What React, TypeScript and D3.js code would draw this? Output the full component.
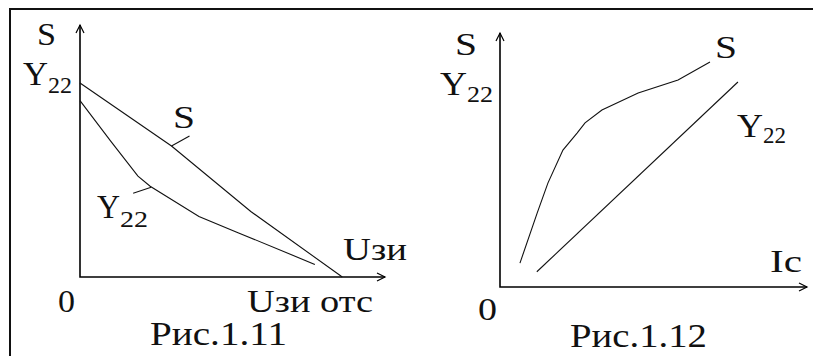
import React, { useEffect, useRef } from 'react';
import * as d3 from 'd3';

// curve points (0..100 along each axis)
const leftS: [number, number][] = [[0, 77], [30, 52], [56, 26], [86, 0]];
const leftY22: [number, number][] = [[0, 70], [10, 54], [19, 40], [23, 36], [39, 24], [52, 17.5], [77, 5]];
const rightS: [number, number][] = [
  [6.5, 9.4], [12.1, 29.1], [15.6, 40.9], [20.5, 53.9], [25.1, 60.6],
  [27.7, 64.6], [33.2, 69.7], [45, 76.4], [58, 81.5], [68.4, 88.6],
];
const rightY22: [number, number][] = [[12, 6], [77.5, 80.7]];

// texts
const captions = ['Рис.1.11', 'Рис.1.12'];
const xAxisNames = ['Uзи', 'Iс'];
const xEndLabel = 'Uзи отс';
const yAxisNames = ['S', 'Y'];
const subscript = '22';
const curveNames = ['S', 'Y'];
const originLabel = '0';

const W = 815;
const H = 356;
const FONT = 'Liberation Serif';

type G = d3.Selection<SVGGElement, unknown, null, undefined>;

const txt = (g: G, x: number, y: number, s: string, size: number, len: number) => {
  g.append('text')
    .attr('x', x)
    .attr('y', y)
    .attr('font-family', FONT)
    .attr('font-size', size)
    .attr('textLength', len)
    .attr('lengthAdjust', 'spacingAndGlyphs')
    .attr('fill', '#111')
    .text(s);
};

const drawAxes = (g: G, x: d3.ScaleLinear<number, number>, y: d3.ScaleLinear<number, number>) => {
  const [x0, x1] = x.range();
  const [y0, y1] = y.range();
  g.append('path')
    .attr('d', `M${x0},${y1}V${y0}H${x1}`)
    .attr('fill', 'none')
    .attr('stroke', '#000')
    .attr('stroke-width', 1.6);
  // arrow heads
  g.append('path')
    .attr('d', `M${x0 - 4},${y1 + 8}L${x0},${y1}L${x0 + 4},${y1 + 8}`)
    .attr('fill', 'none')
    .attr('stroke', '#000')
    .attr('stroke-width', 1.2);
  g.append('path')
    .attr('d', `M${x1 - 8},${y0 - 4}L${x1},${y0}L${x1 - 8},${y0 + 4}`)
    .attr('fill', 'none')
    .attr('stroke', '#000')
    .attr('stroke-width', 1.2);
};

const App = () => {
  const svgRef = useRef<SVGSVGElement>(null);

  useEffect(() => {
    if (!svgRef.current) return;
    document.body.style.margin = '0';
    const svg = d3.select(svgRef.current);
    svg.selectAll('*').remove();

    svg.append('rect').attr('width', W).attr('height', H).attr('fill', '#fff');

    // frame: top and left edges only
    svg.append('path')
      .attr('d', `M10,${H}V9H813`)
      .attr('fill', 'none')
      .attr('stroke', '#111')
      .attr('stroke-width', 2);

    const g = svg.append('g') as G;

    // ---- Рис.1.11 ----
    const xL = d3.scaleLinear().domain([0, 100]).range([80, 385]);
    const yL = d3.scaleLinear().domain([0, 100]).range([277, 25]);
    drawAxes(g, xL, yL);

    const lineL = d3.line<[number, number]>().x(d => xL(d[0])).y(d => yL(d[1]));
    [leftS, leftY22].forEach(s => {
      g.append('path')
        .attr('d', lineL(s))
        .attr('fill', 'none')
        .attr('stroke', '#111')
        .attr('stroke-width', 1.1);
    });

    // leaders to curve names
    const sAt = leftS[1];
    g.append('line')
      .attr('x1', xL(sAt[0])).attr('y1', yL(sAt[1]))
      .attr('x2', xL(sAt[0]) + 18).attr('y2', yL(sAt[1]) - 10)
      .attr('stroke', '#111').attr('stroke-width', 1.1);
    const yAt = leftY22[3];
    g.append('line')
      .attr('x1', xL(yAt[0]) + 1).attr('y1', yL(yAt[1]) + 1)
      .attr('x2', xL(yAt[0]) - 17).attr('y2', yL(yAt[1]) + 7)
      .attr('stroke', '#111').attr('stroke-width', 1.1);

    txt(g, 37, 45, yAxisNames[0], 31, 19);
    txt(g, 23, 85, yAxisNames[1], 34, 25);
    txt(g, 48, 93, subscript, 24, 24);
    txt(g, 173, 128, curveNames[0], 31, 22);
    txt(g, 97, 218, curveNames[1], 34, 23);
    txt(g, 120, 227, subscript, 24, 28);
    txt(g, 343, 260, xAxisNames[0], 32, 64);
    txt(g, 58, 312, originLabel, 32, 17);
    txt(g, 247, 312, xEndLabel, 32, 126);
    txt(g, 150, 345, captions[0], 33, 137);

    // ---- Рис.1.12 ----
    const xR = d3.scaleLinear().domain([0, 100]).range([500, 807]);
    const yR = d3.scaleLinear().domain([0, 100]).range([287, 33]);
    drawAxes(g, xR, yR);

    const lineR = d3.line<[number, number]>().x(d => xR(d[0])).y(d => yR(d[1]));
    [rightS, rightY22].forEach(s => {
      g.append('path')
        .attr('d', lineR(s))
        .attr('fill', 'none')
        .attr('stroke', '#111')
        .attr('stroke-width', 1.1);
    });

    txt(g, 455, 55, yAxisNames[0], 31, 22);
    txt(g, 440, 95, yAxisNames[1], 34, 27);
    txt(g, 467, 102, subscript, 24, 26);
    txt(g, 715, 58, curveNames[0], 31, 22);
    txt(g, 737, 137, curveNames[1], 34, 26);
    txt(g, 763, 143, subscript, 24, 23);
    txt(g, 770, 272, xAxisNames[1], 32, 32);
    txt(g, 478, 320, originLabel, 32, 19);
    txt(g, 570, 347, captions[1], 33, 137);
  }, []);

  return (
    <svg
      ref={svgRef}
      width={W}
      height={H}
      style={{ position: 'absolute', left: 0, top: 0, display: 'block' }}
    />
  );
};

export default App;
